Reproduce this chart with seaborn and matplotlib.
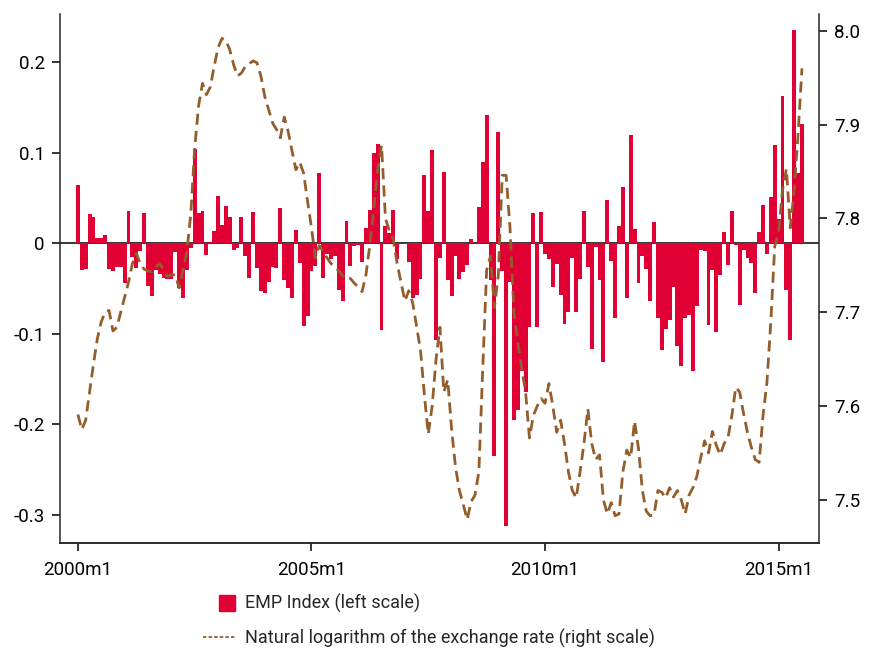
import numpy as np
import pandas as pd
import matplotlib
matplotlib.use("Agg")
import matplotlib.pyplot as plt
from matplotlib.lines import Line2D
from matplotlib.legend_handler import HandlerLine2D
import seaborn as sns

# Monthly periods, 2000m1 .. 2015m7
start_year = 2000
n_months = 187
periods = [f"{start_year + i // 12}m{i % 12 + 1}" for i in range(n_months)]

# Exchange market pressure index (left scale)
emp_index = [
    0.064, -0.030, -0.029, 0.032, 0.029, 0.006, 0.006, 0.009, -0.029, -0.031,
    -0.026, -0.026, -0.044, 0.035, -0.015, -0.027, -0.009, 0.033, -0.047, -0.058,
    -0.030, -0.034, -0.038, -0.039, -0.040, -0.010, -0.049, -0.060, -0.030, -0.005,
    0.104, 0.033, 0.035, -0.013, 0.001, 0.013, 0.052, 0.020, 0.041, 0.029,
    -0.007, -0.005, 0.029, -0.014, -0.038, 0.034, -0.027, -0.053, -0.055, -0.043,
    -0.026, -0.027, 0.039, -0.041, -0.049, -0.060, 0.014, -0.022, -0.091, -0.080,
    -0.031, -0.025, 0.078, -0.038, -0.012, -0.017, -0.014, -0.052, -0.064, 0.024,
    -0.025, -0.003, -0.002, -0.021, 0.017, 0.037, 0.100, 0.110, -0.096, 0.019,
    0.011, 0.037, -0.017, 0.000, -0.001, -0.021, -0.061, -0.057, -0.040, 0.075,
    0.036, 0.103, -0.107, -0.016, 0.079, -0.041, -0.058, -0.014, -0.040, -0.032,
    -0.024, 0.005, 0.000, 0.040, 0.090, 0.141, -0.041, -0.235, 0.123, -0.031,
    -0.312, -0.043, -0.195, -0.184, -0.141, -0.164, -0.092, 0.033, -0.092, 0.034,
    -0.012, -0.017, -0.048, -0.023, -0.057, -0.089, -0.076, -0.016, -0.076, -0.040,
    0.036, -0.026, -0.117, -0.004, -0.041, -0.131, 0.048, -0.020, -0.083, 0.019,
    0.062, -0.061, 0.119, 0.016, -0.044, -0.014, -0.028, -0.064, 0.023, -0.083,
    -0.118, -0.095, -0.085, -0.048, -0.113, -0.136, -0.083, -0.079, -0.141, -0.069,
    -0.008, -0.009, -0.090, -0.030, -0.098, -0.035, 0.012, -0.024, 0.036, -0.002,
    -0.068, -0.007, -0.016, -0.022, -0.055, 0.012, 0.042, -0.012, 0.051, 0.108,
    0.027, 0.162, -0.052, -0.107, 0.235, 0.077, 0.132,
]

# Natural logarithm of the exchange rate (right scale)
log_exchange_rate = [
    7.591, 7.575, 7.585, 7.615, 7.645, 7.672, 7.690, 7.700, 7.702, 7.680,
    7.684, 7.700, 7.716, 7.732, 7.752, 7.763, 7.752, 7.746, 7.744, 7.743,
    7.748, 7.752, 7.745, 7.738, 7.740, 7.740, 7.726, 7.745, 7.765, 7.805,
    7.875, 7.920, 7.944, 7.932, 7.940, 7.962, 7.982, 7.992, 7.990, 7.980,
    7.964, 7.952, 7.955, 7.962, 7.965, 7.968, 7.966, 7.952, 7.930, 7.916,
    7.902, 7.895, 7.886, 7.908, 7.893, 7.872, 7.852, 7.860, 7.848, 7.818,
    7.790, 7.758, 7.771, 7.765, 7.758, 7.752, 7.749, 7.744, 7.739, 7.735,
    7.736, 7.731, 7.727, 7.722, 7.740, 7.772, 7.810, 7.852, 7.878, 7.800,
    7.787, 7.778, 7.752, 7.732, 7.712, 7.723, 7.710, 7.685, 7.660, 7.612,
    7.570, 7.600, 7.650, 7.684, 7.615, 7.628, 7.575, 7.535, 7.510, 7.495,
    7.479, 7.498, 7.505, 7.530, 7.640, 7.745, 7.760, 7.705, 7.740, 7.846,
    7.846, 7.790, 7.700, 7.668, 7.640, 7.615, 7.566, 7.590, 7.600, 7.608,
    7.603, 7.624, 7.600, 7.572, 7.585, 7.560, 7.530, 7.510, 7.502, 7.530,
    7.560, 7.597, 7.560, 7.543, 7.548, 7.500, 7.485, 7.497, 7.483, 7.485,
    7.530, 7.553, 7.545, 7.584, 7.555, 7.510, 7.488, 7.483, 7.484, 7.510,
    7.508, 7.502, 7.513, 7.503, 7.510, 7.500, 7.485, 7.505, 7.513, 7.525,
    7.545, 7.563, 7.550, 7.573, 7.558, 7.548, 7.560, 7.566, 7.590, 7.620,
    7.615, 7.592, 7.572, 7.556, 7.543, 7.540, 7.590, 7.625, 7.690, 7.770,
    7.786, 7.830, 7.853, 7.790, 7.830, 7.890, 7.960,
]

x_tick_labels = ["2000m1", "2005m1", "2010m1", "2015m1"]
left_ticks = [-0.3, -0.2, -0.1, 0.0, 0.1, 0.2]
left_tick_labels = ["-0.3", "-0.2", "-0.1", "0", "0.1", "0.2"]
right_ticks = [7.5, 7.6, 7.7, 7.8, 7.9, 8.0]
right_tick_labels = ["7.5", "7.6", "7.7", "7.8", "7.9", "8.0"]
legend_labels = ["EMP Index (left scale)",
                 "Natural logarithm of the exchange rate (right scale)"]

BAR_COLOR = "#e00034"
LINE_COLOR = "#935e2c"

df = pd.DataFrame({
    "period": periods,
    "t": np.arange(n_months),
    "emp": emp_index,
    "lnfx": log_exchange_rate,
})

sns.set_theme(style="ticks")
plt.rcParams["font.family"] = ["Roboto", "DejaVu Sans"]
plt.rcParams["axes.linewidth"] = 1.1

W, H = 872, 648
fig = plt.figure(figsize=(W / 100, H / 100), dpi=100)
left, right, top, bottom = 60, 818.7, 14, 543
ax = fig.add_axes([left / W, 1 - bottom / H, (right - left) / W, (bottom - top) / H])

ax.axhline(0, color="black", lw=1.1, zorder=0)
sns.barplot(data=df, x="t", y="emp", native_scale=True, width=1.0,
            color=BAR_COLOR, saturation=1, errorbar=None, linewidth=0,
            ax=ax, zorder=2)

ax2 = ax.twinx()
sns.lineplot(data=df, x="t", y="lnfx", ax=ax2, color=LINE_COLOR,
             linewidth=2.0, linestyle=(0, (4.0, 2.2)), zorder=3)

ax.set_xlim(-4.6, 190.3)
ax.set_ylim(-0.331, 0.253)
ax2.set_ylim(7.454, 8.018)

ax.set_xticks([0, 60, 120, 180], x_tick_labels)
ax.set_yticks(left_ticks, left_tick_labels)
ax2.set_yticks(right_ticks, right_tick_labels)

for a in (ax, ax2):
    a.set_xlabel("")
    a.set_ylabel("")
    a.spines["top"].set_visible(False)
    a.tick_params(labelsize=13.5, length=6, width=1.1, color="black",
                  labelcolor="black", pad=5)
ax.tick_params(axis="x", pad=7)
ax.spines["right"].set_visible(False)
ax2.spines["left"].set_visible(False)


class ShiftedMarkerHandler(HandlerLine2D):
    """Line handler whose single marker sits toward the right of the handle box."""

    def __init__(self, shift=0.0, **kw):
        super().__init__(**kw)
        self._shift = shift

    def create_artists(self, legend, orig_handle, xdescent, ydescent,
                       width, height, fontsize, trans):
        artists = super().create_artists(legend, orig_handle, xdescent, ydescent,
                                         width, height, fontsize, trans)
        for art in artists:
            xd = np.asarray(art.get_xdata(), dtype=float)
            if art.get_marker() not in (None, "None", "", " "):
                art.set_xdata(xd + self._shift * width)
        return artists


square = Line2D([], [], marker="s", color=BAR_COLOR, linestyle="none",
                markersize=11.5)
dashed = Line2D([], [], color=LINE_COLOR, lw=1.3, dashes=[1.9, 1.2])
fig.legend([square, dashed], legend_labels, loc="upper left",
           bbox_to_anchor=(203 / W, 1 - 594 / H), frameon=False,
           fontsize=13, handlelength=1.85, handletextpad=0.45,
           labelspacing=0.85, borderaxespad=0, borderpad=0,
           handler_map={square: ShiftedMarkerHandler(shift=0.22, numpoints=1)})

fig.savefig("out.png", dpi=100)
